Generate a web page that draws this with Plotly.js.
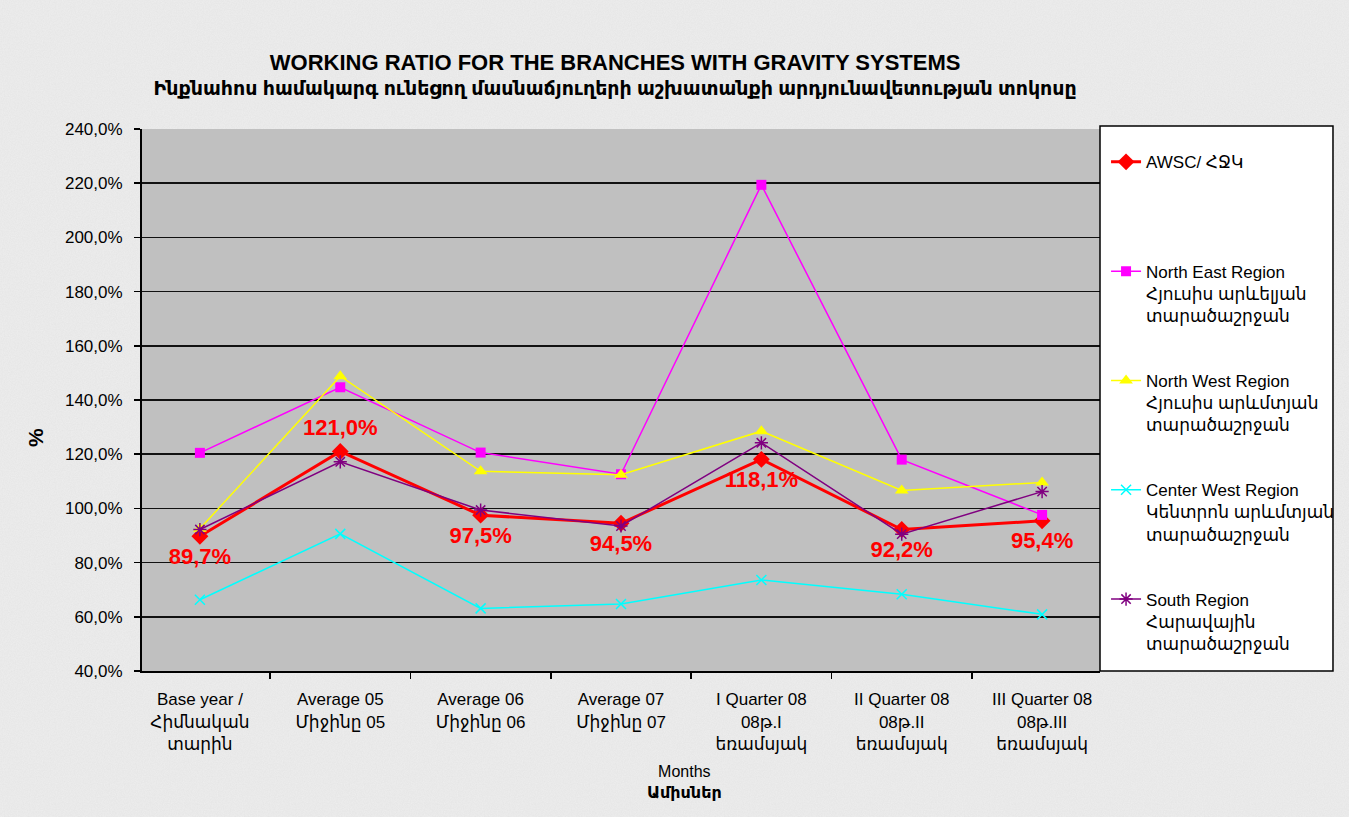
<!DOCTYPE html>
<html>
<head>
<meta charset="utf-8">
<script src="https://cdn.plot.ly/plotly-3.0.1.min.js"></script>
<style>
  html, body { margin: 0; padding: 0; }
  body {
    background-color: #eeeeee;
    background-image: url("data:image/svg+xml;utf8,<svg xmlns='http://www.w3.org/2000/svg' width='240' height='240'><filter id='n'><feTurbulence type='fractalNoise' baseFrequency='0.85' numOctaves='2' stitchTiles='stitch'/><feColorMatrix type='matrix' values='0 0 0 0 0.55  0 0 0 0 0.55  0 0 0 0 0.55  0 0 0 0.22 0'/></filter><rect width='100%' height='100%' filter='url(%23n)'/></svg>");
  }
  #chart { width: 1349px; height: 817px; }
</style>
</head>
<body>
<div id="chart"></div>
<script>
// ---- data ----
const categories = [
  "Base year /<br>Հիմնական<br>տարին",
  "Average 05<br>Միջինը 05",
  "Average 06<br>Միջինը 06",
  "Average 07<br>Միջինը 07",
  "I Quarter 08<br>08թ.I<br>եռամսյակ",
  "II Quarter 08<br>08թ.II<br>եռամսյակ",
  "III Quarter 08<br>08թ.III<br>եռամսյակ"
];
const awsc       = [89.7, 121.0, 97.5, 94.5, 118.1, 92.2, 95.4];
const northEast  = [120.5, 144.7, 120.6, 112.6, 219.4, 118.0, 97.6];
const northWest  = [92.5, 148.8, 113.7, 112.4, 128.5, 106.6, 109.6];
const centerWest = [66.3, 90.6, 63.1, 64.7, 73.6, 68.3, 60.9];
const south      = [92.2, 117.2, 99.4, 93.5, 124.2, 90.5, 106.2];

const seriesNames = [
  "AWSC/ ՀՋԿ<br> <br> ",
  "North East Region<br>Հյուսիս արևելյան<br>տարածաշրջան",
  "North West Region<br>Հյուսիս արևմտյան<br>տարածաշրջան",
  "Center West Region<br>Կենտրոն արևմտյան<br>տարածաշրջան",
  "South Region<br>Հարավային<br>տարածաշրջան"
];
const labelPositions = ["bottom center", "top center", "bottom center", "bottom center",
                        "bottom center", "bottom center", "bottom center"];

const FONT = "Liberation Sans, Arial, DejaVu Sans, sans-serif";

function fmt(v) { return v.toFixed(1).replace('.', ',') + '%'; }

const traces = [
  {
    x: categories, y: awsc, name: seriesNames[0], legendgroup: "g1",
    mode: "lines+markers",
    line: { color: "#ff0000", width: 3 },
    marker: { symbol: "diamond", size: 13, color: "#ff0000" }
  },
  {
    x: categories, y: northEast, name: seriesNames[1], legendgroup: "g2",
    mode: "lines+markers",
    line: { color: "#ff00ff", width: 1.5 },
    marker: { symbol: "square", size: 10, color: "#ff00ff" }
  },
  {
    x: categories, y: northWest, name: seriesNames[2], legendgroup: "g3",
    mode: "lines+markers",
    line: { color: "#ffff00", width: 1.5 },
    marker: { symbol: "triangle-up", size: 12, color: "#ffff00" }
  },
  {
    x: categories, y: centerWest, name: seriesNames[3], legendgroup: "g4",
    mode: "lines+markers",
    line: { color: "#00ffff", width: 1.5 },
    marker: { symbol: "x-thin-open", size: 10, color: "#00ffff", line: { color: "#00ffff", width: 1.5 } }
  },
  {
    x: categories, y: south, name: seriesNames[4], legendgroup: "g5",
    mode: "lines+markers",
    line: { color: "#800080", width: 1.5 },
    marker: { symbol: "asterisk-open", size: 11, color: "#800080", line: { color: "#800080", width: 1.5 } }
  },
  {
    x: categories, y: awsc, mode: "markers+text", showlegend: false, hoverinfo: "skip",
    marker: { size: 16, color: "rgba(0,0,0,0)" },
    text: awsc.map(fmt), textposition: labelPositions,
    textfont: { family: FONT, size: 22, color: "#ff0000", weight: "bold" }
  }
];

const layout = {
  width: 1349, height: 817,
  margin: { l: 142, r: 249, t: 129, b: 146, pad: 0 },
  paper_bgcolor: "rgba(0,0,0,0)",
  plot_bgcolor: "#c0c0c0",
  separators: ", ",
  font: { family: FONT, size: 17, color: "#000000" },
  title: {
    text: "<span style='font-size:22px'><b>WORKING RATIO FOR THE BRANCHES WITH GRAVITY SYSTEMS</b></span><br><b>Ինքնահոս համակարգ ունեցող մասնաճյուղերի աշխատանքի արդյունավետության տոկոսը</b>",
    font: { family: FONT, size: 19, color: "#000000" },
    x: 0.456, xanchor: "center", xref: "container",
    y: 0.914, yanchor: "top", yref: "container"
  },
  xaxis: {
    type: "category",
    showline: true, linecolor: "#000000", linewidth: 2,
    ticks: "outside", tickson: "boundaries", ticklen: 6, tickcolor: "#000000", tickwidth: 1.5,
    showgrid: false, zeroline: false,
    tickfont: { family: FONT, size: 17, color: "#000000" },
    ticklabelstandoff: 12
  },
  yaxis: {
    range: [40, 240], dtick: 20, tick0: 40,
    tickformat: ".1f", ticksuffix: "%",
    showline: true, linecolor: "#000000", linewidth: 2,
    ticks: "outside", ticklen: 6, tickcolor: "#000000", tickwidth: 1.5,
    showgrid: true, gridcolor: "#111111", gridwidth: 1.5,
    zeroline: false,
    tickfont: { family: FONT, size: 17, color: "#000000" },
    ticklabelstandoff: 8
  },
  legend: {
    xref: "container", yref: "container",
    x: 0.8199, xanchor: "left", y: 0.8234, yanchor: "top",
    maxheight: 760,
    bgcolor: "rgba(0,0,0,0)", borderwidth: 0,
    font: { family: FONT, size: 17, color: "#000000" },
    valign: "top", traceorder: "grouped", tracegroupgap: 40
  },
  shapes: [{
    type: "rect", xref: "paper", yref: "paper",
    x0: 1.0, x1: 1.2432, y0: 0, y1: 1.0055,
    fillcolor: "#ffffff", line: { color: "#000000", width: 1.5 }, layer: "above"
  }],
  annotations: [
    {
      text: "<b>%</b>", xref: "paper", yref: "paper", x: -0.1117, y: 0.4317,
      textangle: -90, showarrow: false, xanchor: "center", yanchor: "middle",
      font: { family: FONT, size: 21, color: "#000000" }
    },
    {
      text: "Months<br><b>Ամիսներ</b>", xref: "paper", yref: "paper", x: 0.5668, y: -0.2048,
      showarrow: false, xanchor: "center", yanchor: "middle",
      font: { family: FONT, size: 16, color: "#000000" }
    }
  ],
  showlegend: true
};

Plotly.newPlot("chart", traces, layout, { displayModeBar: false, staticPlot: true });
</script>
</body>
</html>
